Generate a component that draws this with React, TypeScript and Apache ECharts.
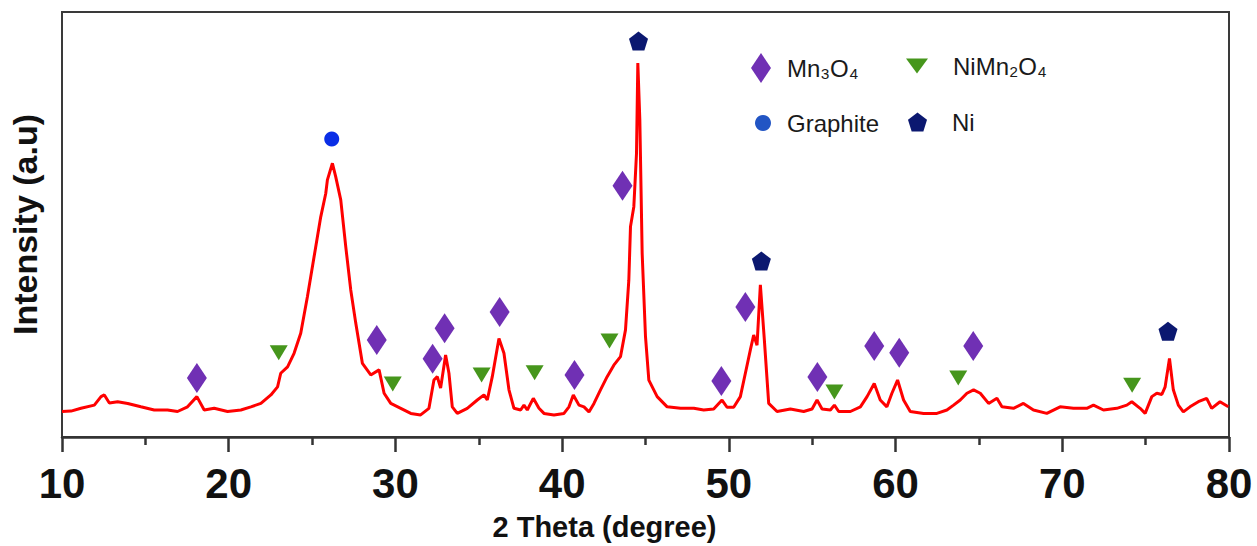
import React, { useEffect, useRef } from "react";
import * as echarts from "echarts";

// XRD pattern (2θ in degrees, intensity in arbitrary units, 0–100 = plot height)
const twoTheta = [
  10.0, 10.54, 11.14, 11.94, 12.34, 12.54, 12.84, 13.34, 13.94, 14.73, 15.53, 16.33, 16.93, 17.53, 18.09, 18.53,
  19.13, 19.93, 20.73, 21.33, 21.93, 22.53, 22.93, 23.12, 23.53, 23.92, 24.32, 24.72, 25.12, 25.52, 25.82, 25.92,
  26.22, 26.42, 26.72, 27.02, 27.32, 27.62, 28.02, 28.52, 29.02, 29.32, 29.72, 30.32, 30.92, 31.51, 32.01, 32.31,
  32.51, 32.71, 33.01, 33.21, 33.41, 33.71, 34.31, 34.91, 35.31, 35.51, 35.81, 36.21, 36.51, 36.81, 37.11, 37.51,
  37.71, 37.91, 38.27, 38.61, 38.91, 39.51, 40.11, 40.41, 40.67, 41.01, 41.31, 41.61, 41.91, 42.3, 42.7, 43.1,
  43.5, 43.8, 44.0, 44.1, 44.3, 44.46, 44.54, 44.66, 44.8, 45.0, 45.2, 45.7, 46.3, 47.1, 47.9, 48.49,
  49.09, 49.59, 49.89, 50.29, 50.69, 50.99, 51.29, 51.49, 51.69, 51.89, 52.13, 52.39, 52.89, 53.69, 54.49, 54.99,
  55.29, 55.59, 56.09, 56.33, 56.59, 57.29, 57.89, 58.29, 58.72, 59.08, 59.48, 59.78, 60.12, 60.48, 60.88, 61.68,
  62.48, 63.08, 63.48, 63.88, 64.28, 64.68, 65.08, 65.58, 66.08, 66.38, 67.07, 67.67, 68.27, 69.07, 69.87, 70.67,
  71.47, 71.87, 72.47, 73.27, 73.87, 74.17, 74.67, 74.97, 75.37, 75.67, 75.97, 76.17, 76.43, 76.66, 76.96, 77.26,
  77.66, 78.16, 78.66, 78.96, 79.46, 79.96,
];
const intensity = [
  6.0, 6.1, 6.75, 7.5, 9.5, 9.9, 8.0, 8.3, 7.9, 7.1, 6.35, 6.35, 6.0, 7.1, 9.5, 6.35,
  6.75, 6.0, 6.35, 7.1, 7.9, 9.9, 11.8, 15.0, 16.5, 19.7, 24.4, 33.0, 42.4, 51.8, 57.3, 60.5,
  64.4, 61.2, 55.8, 44.8, 34.6, 26.8, 17.3, 14.6, 15.8, 10.3, 7.9, 6.75, 5.55, 5.2, 6.75, 13.4,
  14.2, 11.5, 19.3, 15.0, 7.1, 5.55, 6.75, 8.7, 9.9, 8.7, 14.2, 23.2, 19.7, 11.1, 6.75, 6.35,
  7.5, 6.35, 9.1, 6.75, 5.55, 5.2, 5.55, 7.1, 9.9, 7.5, 7.1, 5.9, 7.9, 11.1, 14.2, 16.9,
  18.9, 25.2, 36.9, 49.5, 54.2, 66.7, 88.0, 74.6, 43.2, 23.6, 13.4, 9.5, 7.1, 6.75, 6.75, 6.35,
  6.6, 8.7, 7.0, 7.0, 9.5, 15.0, 20.5, 24.0, 21.6, 35.8, 22.8, 7.9, 6.0, 6.6, 6.0, 6.6,
  8.7, 6.6, 6.35, 7.5, 6.0, 6.0, 7.1, 9.5, 12.6, 8.7, 7.1, 10.3, 13.4, 8.7, 6.0, 5.55,
  5.55, 6.35, 7.5, 8.7, 10.3, 11.1, 10.3, 7.9, 9.1, 7.1, 6.75, 7.9, 6.35, 5.55, 7.1, 6.75,
  6.75, 7.5, 6.35, 6.75, 7.5, 8.3, 6.75, 5.55, 9.5, 10.3, 10.0, 11.8, 18.5, 11.1, 7.5, 5.9,
  7.1, 8.3, 9.1, 6.75, 8.3, 7.1,
];

// phase markers
const mn3o4X = [18.09, 28.88, 32.23, 32.95, 36.25, 40.74, 43.62, 49.55, 50.99, 55.31, 58.72, 60.22, 64.66];
const mn3o4Y = [13.9, 22.8, 18.4, 25.6, 29.4, 14.6, 59.1, 13.2, 30.6, 14.1, 21.4, 19.8, 21.4];
const niMn2o4X = [23.0, 29.84, 35.17, 38.35, 42.84, 56.33, 63.76, 74.19];
const niMn2o4Y = [19.8, 12.5, 14.6, 15.1, 22.6, 10.6, 13.9, 12.2];
const graphiteX = [26.18];
const graphiteY = [70.1];
const niX = [44.58, 51.95, 76.34];
const niY = [93.2, 41.4, 24.9];

const xTicks = [10, 20, 30, 40, 50, 60, 70, 80];
const phaseNames = ["Mn\u2083O\u2084", "NiMn\u2082O\u2084", "Graphite", "Ni"];

const zip = (xs: number[], ys: number[]) => xs.map((x, i) => [x, ys[i]]);

const DOWN_TRI = "path://M0,0 L20,0 L10,14 Z";
const PENTAGON = "path://M50,0 L97.6,34.5 L79.4,90.5 L20.6,90.5 L2.4,34.5 Z";

const FONT = "'Liberation Sans', Arial, sans-serif";

export default function App() {
  const ref = useRef<HTMLDivElement>(null);
  useEffect(() => {
    if (!ref.current) return;
    const chart = echarts.init(ref.current, undefined, { renderer: "svg" });
    const legendText = (pad: number) => ({
      fontFamily: FONT,
      fontSize: 24,
      color: "#1a1a1a",
      padding: [0, 0, 0, pad],
    });
    chart.setOption({
      animation: false,
      backgroundColor: "#ffffff",
      grid: {
        left: 61,
        right: 28,
        top: 12,
        bottom: 109,
        show: true,
        borderColor: "#3a3a3a",
        borderWidth: 2,
      },
      xAxis: {
        type: "value",
        min: xTicks[0],
        max: xTicks[xTicks.length - 1],
        interval: 10,
        name: "2 Theta (degree)",
        nameLocation: "middle",
        nameGap: 75,
        nameTextStyle: {
          fontFamily: FONT,
          fontWeight: "bold",
          fontSize: 29,
          color: "#111",
          padding: [0, 82, 0, 0],
        },
        axisLine: { show: true, lineStyle: { color: "#333", width: 2.5 } },
        axisTick: { show: true, inside: false, length: 15, lineStyle: { color: "#333", width: 2.5 } },
        minorTick: { show: true, splitNumber: 2, length: 8, lineStyle: { color: "#333", width: 2.5 } },
        axisLabel: {
          margin: 25,
          fontFamily: FONT,
          fontWeight: "bold",
          fontSize: 42,
          color: "#111",
        },
        splitLine: { show: false },
      },
      yAxis: {
        type: "value",
        min: 0,
        max: 100,
        name: "Intensity (a.u)",
        nameLocation: "middle",
        nameGap: 20,
        nameTextStyle: {
          fontFamily: FONT,
          fontWeight: "bold",
          fontSize: 34,
          color: "#111",
        },
        axisLine: { show: false },
        axisTick: { show: false },
        axisLabel: { show: false },
        splitLine: { show: false },
      },
      legend: [
        {
          data: [phaseNames[0]],
          left: 751,
          top: 53,
          padding: 0,
          itemWidth: 20,
          itemHeight: 30,
          symbolKeepAspect: false,
          itemStyle: { opacity: 1 },
          textStyle: legendText(11),
        },
        {
          data: [phaseNames[1]],
          left: 906,
          top: 54,
          padding: 0,
          itemWidth: 22,
          itemHeight: 15,
          symbolKeepAspect: false,
          itemStyle: { opacity: 1 },
          textStyle: legendText(20),
        },
        {
          data: [phaseNames[2]],
          left: 755,
          top: 111,
          padding: 0,
          itemWidth: 16,
          itemHeight: 16,
          itemStyle: { color: "#2255c4", opacity: 1 },
          textStyle: legendText(11),
        },
        {
          data: [phaseNames[3]],
          left: 908,
          top: 110,
          padding: 0,
          itemWidth: 19,
          itemHeight: 19,
          symbolKeepAspect: false,
          itemStyle: { opacity: 1 },
          textStyle: legendText(20),
        },
      ],
      series: [
        {
          name: "XRD",
          type: "line",
          data: zip(twoTheta, intensity),
          symbol: "none",
          lineStyle: { color: "#ff0000", width: 3 },
          z: 2,
        },
        {
          name: phaseNames[0],
          type: "scatter",
          data: zip(mn3o4X, mn3o4Y),
          symbol: "diamond",
          symbolSize: [20, 30],
          itemStyle: { color: "#7030b4", opacity: 1 },
          z: 3,
        },
        {
          name: phaseNames[1],
          type: "scatter",
          data: zip(niMn2o4X, niMn2o4Y),
          symbol: DOWN_TRI,
          symbolSize: [18, 15],
          itemStyle: { color: "#46961c", opacity: 1 },
          z: 3,
        },
        {
          name: phaseNames[2],
          type: "scatter",
          data: zip(graphiteX, graphiteY),
          symbol: "circle",
          symbolSize: 15,
          itemStyle: { color: "#0a2ee6", opacity: 1 },
          z: 3,
        },
        {
          name: phaseNames[3],
          type: "scatter",
          data: zip(niX, niY),
          symbol: PENTAGON,
          symbolSize: 19,
          itemStyle: { color: "#0b1870", opacity: 1 },
          z: 3,
        },
      ],
    });
    return () => chart.dispose();
  }, []);
  return (
    <div
      ref={ref}
      style={{ position: "fixed", left: 0, top: 0, width: 1257, height: 546, background: "#fff" }}
    />
  );
}
